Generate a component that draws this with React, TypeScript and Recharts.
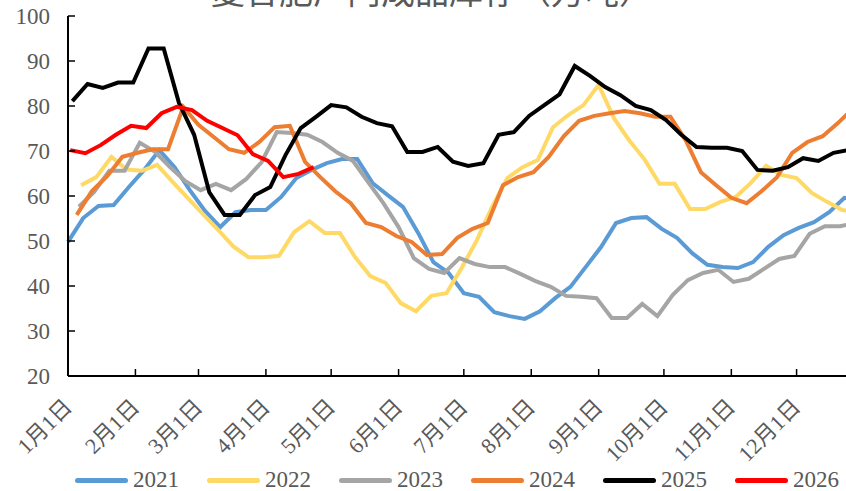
import React from 'react';
import { LineChart, Line, XAxis, YAxis } from 'recharts';

// weekly inventory readings, one list per year
const v2021 = [49.8, 55.1, 57.8, 58.0, 62.0, 65.8, 70.2, 66.4, 61.3, 56.7, 53.1, 56.4, 56.9, 56.9, 59.8, 64.0, 65.8, 67.3, 68.2, 68.2, 62.9, 60.2, 57.6, 51.8, 45.3, 42.9, 38.4, 37.6, 34.2, 33.3, 32.7, 34.4, 37.3, 39.8, 44.2, 48.6, 54.0, 55.1, 55.3, 52.7, 50.7, 47.3, 44.7, 44.2, 44.0, 45.3, 48.7, 51.3, 52.9, 54.2, 56.4, 59.6, 59.3];
const v2022 = [62.4, 64.2, 68.7, 65.9, 65.6, 66.9, 63.2, 59.6, 56.0, 52.5, 48.8, 46.4, 46.4, 46.7, 52.0, 54.4, 51.8, 51.8, 46.4, 42.2, 40.7, 36.2, 34.4, 37.8, 38.4, 44.0, 50.2, 57.6, 64.0, 66.4, 68.0, 75.3, 78.0, 80.2, 84.7, 77.3, 72.4, 68.2, 62.7, 62.7, 57.1, 57.1, 58.7, 59.8, 62.9, 66.7, 64.7, 64.0, 60.7, 58.7, 56.9, 56.5];
const v2023 = [57.6, 60.9, 65.6, 65.6, 71.8, 69.8, 66.4, 63.3, 61.3, 62.7, 61.3, 63.8, 67.5, 74.2, 74.0, 73.6, 72.0, 69.6, 67.8, 63.1, 58.4, 53.1, 46.2, 43.8, 42.9, 46.2, 44.9, 44.2, 44.2, 42.7, 41.1, 39.8, 37.8, 37.6, 37.3, 32.9, 32.9, 36.0, 33.3, 38.0, 41.3, 42.9, 43.6, 40.9, 41.6, 43.8, 46.0, 46.7, 51.6, 53.3, 53.3, 54.0];
const v2024 = [55.8, 61.1, 64.4, 68.7, 69.6, 70.4, 70.4, 79.8, 75.8, 73.1, 70.4, 69.6, 72.0, 75.3, 75.6, 67.6, 64.2, 61.0, 58.4, 54.0, 53.1, 51.1, 49.8, 46.9, 47.1, 50.7, 52.7, 54.0, 62.4, 64.2, 65.3, 68.7, 73.3, 76.7, 77.8, 78.4, 78.9, 78.4, 77.6, 77.6, 72.4, 65.3, 62.4, 59.6, 58.4, 61.1, 64.2, 69.6, 72.0, 73.3, 76.2, 79.5];
const v2025 = [81.1, 84.9, 84.0, 85.2, 85.2, 92.8, 92.8, 80.7, 73.6, 60.8, 55.8, 55.8, 60.2, 62.0, 69.1, 75.1, 77.6, 80.2, 79.7, 77.6, 76.2, 75.5, 69.8, 69.8, 70.9, 67.6, 66.7, 67.3, 73.6, 74.2, 77.8, 80.2, 82.6, 88.9, 86.7, 84.2, 82.4, 80.0, 79.1, 76.9, 73.6, 70.9, 70.7, 70.7, 70.0, 65.8, 65.6, 66.4, 68.4, 67.8, 69.6, 70.2];
const v2026 = [70.2, 69.5, 71.3, 73.6, 75.6, 75.1, 78.4, 79.8, 79.1, 76.7, 75.1, 73.5, 69.3, 67.8, 64.2, 64.9, 66.4];

const seriesNames = ['2021', '2022', '2023', '2024', '2025', '2026'];
const seriesValues = [v2021, v2022, v2023, v2024, v2025, v2026];
// day of year of each year's first weekly reading
const startDays = [0, 6, 5, 4, 2, 1];
const colors = ['#5B9BD5', '#FFD966', '#A5A5A5', '#ED7D31', '#000000', '#FF0000'];

const monthTicks = [0, 31, 60, 91, 121, 152, 182, 213, 244, 274, 305, 335];
const monthLabels = ['1月1日', '2月1日', '3月1日', '4月1日', '5月1日', '6月1日', '7月1日', '8月1日', '9月1日', '10月1日', '11月1日', '12月1日'];
const yTicks = [20, 30, 40, 50, 60, 70, 80, 90, 100];

const title = '复合肥厂内成品库存（万吨）';
const textColor = '#595959';
const font = "'Times New Roman', 'Liberation Serif', 'DejaVu Serif', 'Noto Sans CJK SC', serif";

const series = seriesNames.map((name, s) => ({
  name,
  color: colors[s],
  data: seriesValues[s].map((value, i) => ({ day: startDays[s] + i * 7, value })),
}));

const MonthTick = (props: any) => {
  const { x, y, payload } = props;
  const idx = monthTicks.indexOf(payload.value);
  return (
    <text
      x={x}
      y={y}
      transform={`rotate(-45 ${x} ${y})`}
      textAnchor="end"
      dominantBaseline="central"
      fill={textColor}
      fontSize={22}
      style={{ fontFamily: font }}
    >
      {monthLabels[idx]}
    </text>
  );
};

export default function App() {
  return (
    <div style={{ position: 'absolute', left: 0, top: 0, width: 846, height: 491, overflow: 'hidden', background: '#fff' }}>
      <svg width={846} height={30} style={{ position: 'absolute', left: 0, top: 0 }}>
        <text x={432} y={4} textAnchor="middle" fontSize={34} fill={textColor} style={{ fontFamily: "'Noto Sans CJK SC', sans-serif" }}>
          {title}
        </text>
      </svg>
      <LineChart width={874} height={491} margin={{ top: 16, right: 10, bottom: 0, left: 0 }}>
        <XAxis
          type="number"
          dataKey="day"
          domain={[0, 366]}
          ticks={monthTicks}
          interval={0}
          height={115}
          tickSize={-7}
          tickMargin={34}
          axisLine={{ stroke: '#000', strokeWidth: 2 }}
          tickLine={{ stroke: '#000', strokeWidth: 1.5 }}
          tick={<MonthTick />}
        />
        <YAxis
          type="number"
          domain={[20, 100]}
          ticks={yTicks}
          interval={0}
          width={68}
          tickSize={-7}
          tickMargin={25}
          axisLine={{ stroke: '#000', strokeWidth: 2 }}
          tickLine={{ stroke: '#000', strokeWidth: 1.5 }}
          tick={{ fill: textColor, fontSize: 23, style: { fontFamily: font } }}
        />
        {series.map((s) => (
          <Line
            key={s.name}
            data={s.data}
            dataKey="value"
            name={s.name}
            type="linear"
            stroke={s.color}
            strokeWidth={4}
            dot={false}
            isAnimationActive={false}
          />
        ))}
      </LineChart>
      <div style={{ position: 'absolute', left: 75, top: 467, height: 26, display: 'flex', alignItems: 'center' }}>
        {series.map((s) => (
          <div key={s.name} style={{ width: 132, display: 'flex', alignItems: 'center' }}>
            <span style={{ display: 'inline-block', width: 53, height: 5, borderRadius: 3, background: s.color, marginRight: 5 }} />
            <span style={{ fontSize: 23, fontFamily: font, color: textColor, lineHeight: '26px' }}>{s.name}</span>
          </div>
        ))}
      </div>
    </div>
  );
}
